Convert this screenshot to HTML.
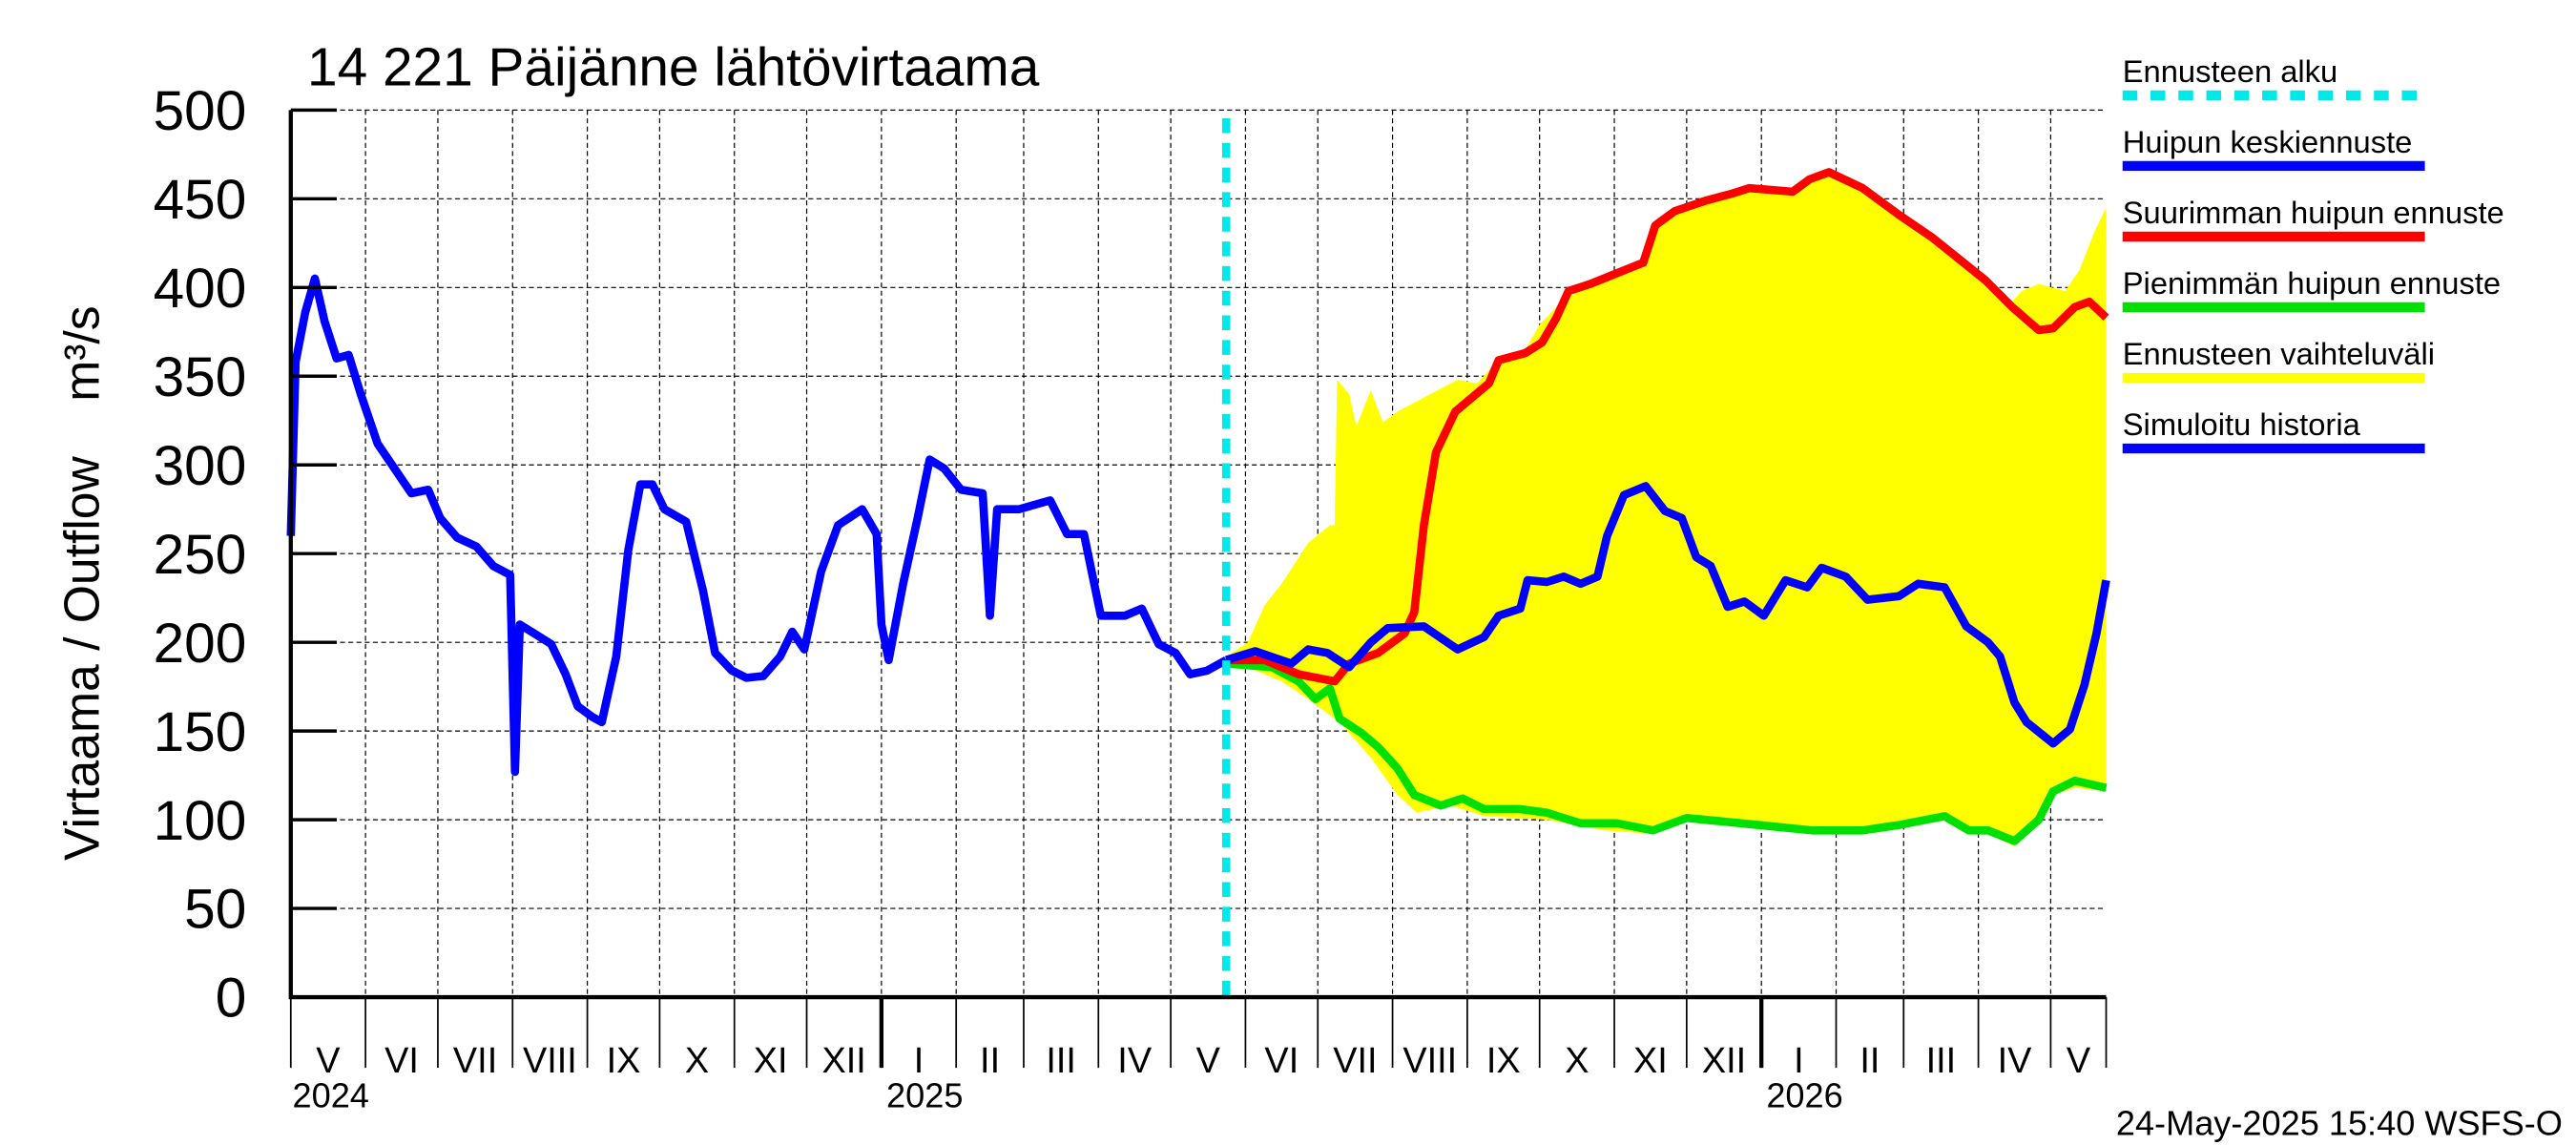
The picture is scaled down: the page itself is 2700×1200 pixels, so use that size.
<!DOCTYPE html>
<html><head><meta charset="utf-8"><style>
html,body{margin:0;padding:0;background:#fff}
svg{display:block}
text{font-family:"Liberation Sans",sans-serif;fill:#000}
</style></head><body>
<svg id="chart" xmlns="http://www.w3.org/2000/svg" width="2700" height="1200" viewBox="0 0 1568 697" preserveAspectRatio="none">
<rect width="1568" height="697" fill="#fff"/>
<g id="grid"></g>
<g id="band"></g>
<g id="series"></g>
<g id="axes"></g>
<text x="187" y="52" font-size="33">14 221 Päijänne lähtövirtaama</text>
<text transform="translate(60,355) rotate(-90)" text-anchor="middle" font-size="30" xml:space="preserve">Virtaama / Outflow    m³/s</text>
<text x="1288" y="691" font-size="21">24-May-2025 15:40 WSFS-O</text>
<g id="legend"></g>
</svg>
<script>
const histDays=[0,2,6,10,14,19,24,29,36,43,50,57,62,69,77,84,91,93,95,101,108,114,119,125,129,135,140,145,150,155,164,171,176,183,189,196,203,208,213,220,227,237,243,245,248,254,260,265,271,278,287,290,293,302,315,322,329,336,346,353,360,367,373,380,388];
const histVals=[260,358,386,405,381,360,362,340,312,298,284,286,270,259,254,243,238,127,210,205,199,182,164,158,155,192,252,289,289,275,268,229,194,184,180,181,192,206,196,240,266,275,261,210,190,233,270,303,298,286,284,215,275,275,280,261,261,215,215,219,199,194,182,184,190];
const meanDays=[388,400,415,422,430,439,448,455,470,484,495,501,510,513,521,528,535,542,546,553,562,570,577,583,589,596,603,611,620,629,635,645,654,667,675,686,695,704,709,715,720,731,738,744,749,753];
const meanVals=[190,195,188,196,194,186,200,208,209,196,203,215,219,235,234,237,233,237,260,283,288,274,270,248,243,220,223,215,235,231,242,237,224,226,233,231,209,200,192,166,155,143,151,176,205,235];
const maxDays=[388,404,418,433,439,451,462,466,470,475,483,490,497,501,512,519,525,530,539,550,561,566,574,587,598,605,623,630,638,652,667,681,692,703,714,725,731,740,746,753];
const maxVals=[190,190,182,178,188,194,205,217,266,307,330,338,346,359,363,369,383,398,402,408,414,435,443,449,453,456,454,461,465,456,441,428,416,404,389,376,377,389,392,383];
const minDays=[388,407,418,425,431,435,444,451,459,466,477,486,495,510,521,535,550,565,579,594,609,631,652,667,686,696,704,715,725,731,740,753];
const minVals=[188,186,178,168,174,157,149,141,129,114,108,112,106,106,104,98,98,94,101,99,97,94,94,97,102,94,94,88,100,116,122,118];
const upDays=[388,397,404,411,422,431,433,434,439,442,448,453,459,470,484,492,501,512,518,527,539,550,561,566,574,587,598,605,623,630,638,652,667,681,692,703,714,718,725,736,742,748,753];
const upVals=[192,200,221,233,256,266,266,348,340,322,342,324,330,338,348,346,359,365,379,392,402,408,414,435,443,449,453,456,454,461,465,456,441,428,416,404,392,398,402,398,410,431,445];
const loDays=[388,397,411,422,435,448,459,467,481,495,521,545,565,579,594,609,631,652,667,686,696,704,715,725,731,740,753];
const loVals=[186,186,178,168,155,135,114,104,108,102,100,94,92,99,97,95,92,92,95,100,92,92,85,98,114,118,116];
const yTicks=[0,50,100,150,200,250,300,350,400,450,500];
const monthDays=[0,31,61,92,123,153,184,214,245,276,304,335,365,396,426,457,488,518,549,579,610,641,669,700,730,753];
const monthLabels=["V","VI","VII","VIII","IX","X","XI","XII","I","II","III","IV","V","VI","VII","VIII","IX","X","XI","XII","I","II","III","IV","V"];
const yearDays=[0,245,610];
const yearLabels=["2024","2025","2026"];
const forecastDay=388;

const X0=177,X1=1282,Y0=607,Y1=67,DMAX=753,VMAX=500;
const x=d=>X0+d*(X1-X0)/DMAX;
const y=v=>Y0-v*(Y0-Y1)/VMAX;
const NS="http://www.w3.org/2000/svg";
function mk(tag,attrs,parent){const e=document.createElementNS(NS,tag);for(const k in attrs)e.setAttribute(k,attrs[k]);parent.appendChild(e);return e;}
const grid=document.getElementById('grid'),axes=document.getElementById('axes'),band=document.getElementById('band'),series=document.getElementById('series'),legend=document.getElementById('legend');

yTicks.forEach(v=>{
  if(v>0){const l=mk('line',{x1:X0,x2:X1,y1:y(v),y2:y(v),stroke:'#000','stroke-width':0.7,'stroke-dasharray':'3,2'},grid);
  
  }
  const t=mk('line',{x1:X0,x2:X0+28,y1:y(v),y2:y(v),stroke:'#000','stroke-width':2},axes);
  
  
  const tx=mk('text',{x:150,y:y(v)+12,'text-anchor':'end','font-size':34},axes);
  
  
  tx.textContent=v;
});
monthDays.forEach((d,i)=>{
  if(d>0&&d<DMAX){const g=mk('line',{x1:x(d),x2:x(d),y1:Y1,y2:Y0,stroke:'#000','stroke-width':0.7,'stroke-dasharray':'3,2'},grid);
  
  }
  const t=mk('line',{x1:x(d),x2:x(d),y1:Y0,y2:650,stroke:'#000','stroke-width':1},axes);
  
  
  if(i<monthLabels.length){const nd=monthDays[i+1];
  const tx=mk('text',{x:(x(d)+x(nd))/2,y:653,'text-anchor':'middle','font-size':22},axes);
  
  
  tx.textContent=monthLabels[i];}
});
yearDays.forEach((d,i)=>{
  if(d>0){const t=mk('line',{x1:x(d),x2:x(d),y1:Y0,y2:650,stroke:'#000','stroke-width':2.5},axes);
  
  }
  const tx=mk('text',{x:x(d)+(i==0?1:3),y:674,'font-size':21},axes);
  
  
  tx.textContent=yearLabels[i];
});
const ax=mk('path',{d:`M${X0},${Y1} V${Y0} H${X1}`,fill:'none',stroke:'#000','stroke-width':2.5},axes);



let bp='M'+upDays.map((d,i)=>x(d)+','+y(upVals[i])).join(' L');
for(let i=loDays.length-1;i>=0;i--)bp+=' L'+x(loDays[i])+','+y(loVals[i]);
const bandEl=mk('path',{d:bp+' Z',fill:'#ffff00',stroke:'none'},band);



function line(days,vals,color,name){const p=mk('polyline',{points:days.map((d,i)=>x(d)+','+y(vals[i])).join(' '),fill:'none',stroke:color,'stroke-width':5,'stroke-linejoin':'round'},series);

}
line(minDays,minVals,'#00e000','min-peak-forecast');
line(maxDays,maxVals,'#ff0000','max-peak-forecast');
line(meanDays,meanVals,'#0000ff','mean-peak-forecast');
line(histDays,histVals,'#0000ff','simulated-history');
const fl=mk('line',{x1:x(forecastDay),x2:x(forecastDay),y1:72,y2:Y0,stroke:'#00e8e8','stroke-width':5,'stroke-dasharray':'9,6'},series);



const leg=[["Ennusteen alku","#00e8e8",true],["Huipun keskiennuste","#0000ff"],["Suurimman huipun ennuste","#ff0000"],["Pienimmän huipun ennuste","#00e000"],["Ennusteen vaihteluväli","#ffff00"],["Simuloitu historia","#0000ff"]];
leg.forEach((e,i)=>{const ty=50+i*43;
  const t=mk('text',{x:1292,y:ty,'font-size':19},legend);
  
  
  t.textContent=e[0];
  const l=mk('line',{x1:1292,x2:1476,y1:ty+8,y2:ty+8,stroke:e[1],'stroke-width':6},legend);
  if(e[2])l.setAttribute('stroke-dasharray','9,8');
  
  
});
</script>
</body></html>
